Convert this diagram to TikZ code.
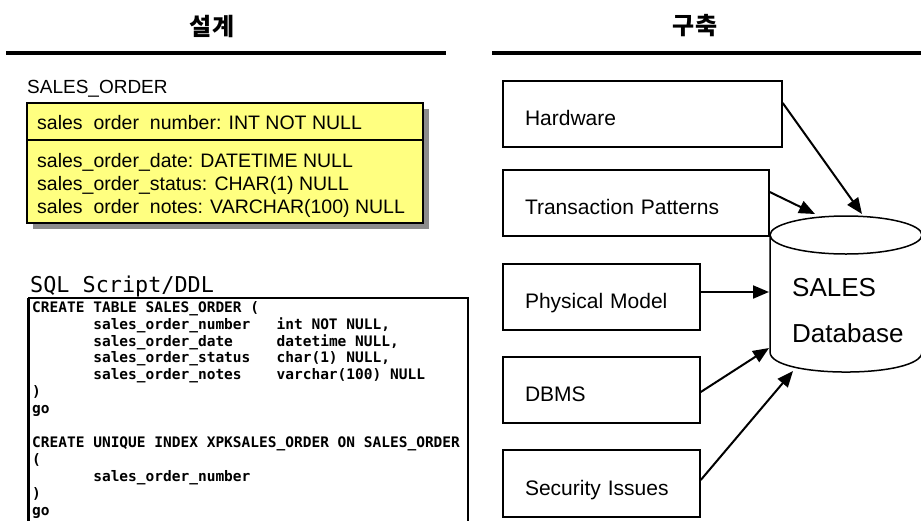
\documentclass[tikz,border=0pt]{standalone}
\usepackage{fontspec}
\setmainfont{Liberation Sans}
\newfontfamily\krfont{Noto Sans CJK KR}
\newfontfamily\codefont{DejaVu Sans Mono}
\usetikzlibrary{arrows.meta,calc}
\definecolor{entyellow}{RGB}{255,255,128}
\definecolor{shadowgray}{RGB}{140,140,140}

\begin{document}
\begin{tikzpicture}[x=1pt,y=-1pt,
  heading/.style={inner sep=0pt, font=\krfont\bfseries\fontsize{24}{24}\selectfont},
  rulebar/.style={line width=4pt},
  enttext/.style={anchor=base west, inner sep=0pt, font=\fontsize{19.5}{23}\selectfont},
  srcbox/.style={draw, line width=1.5pt, minimum height=66pt, inner xsep=22pt,
    inner ysep=0pt, align=left, text height=23pt, text depth=0pt,
    font=\fontsize{21}{24}\selectfont},
  feed/.style={line width=2pt, -{Triangle[length=16pt,width=13pt]}},
]
\useasboundingbox (0,0) rectangle (921,520);

% column headings and rules
\node[heading] (design) at (212,26) {설계};
\node[heading] (build)  at (695,26) {구축};
\draw[rulebar] (6,53) -- (446,53);
\draw[rulebar] (492,53) -- (921,53);

% entity SALES_ORDER
\node[anchor=base west, inner sep=0pt, font=\fontsize{19}{22}\selectfont] (entname) at (27,93) {SALES\_ORDER};
\fill[shadowgray] (33,109) rectangle (429,229);
\draw[line width=1.3pt, fill=entyellow] (27,103) rectangle (423,223);
\draw[line width=1.3pt] (27,140) -- (423,140);
\node[enttext] (pk) at (37,129) {sales\phantom{\_}order\phantom{\_}number: INT NOT NULL};
\node[enttext] (a1) at (37,167) {sales\_order\_date: DATETIME NULL};
\node[enttext] (a2) at (37,190) {sales\_order\_status: CHAR(1) NULL};
\node[enttext] (a3) at (37,213) {sales\phantom{\_}order\phantom{\_}notes: VARCHAR(100) NULL};

% SQL script (multi-line nodes sit on the baseline of their last line)
\node[anchor=base west, inner sep=0pt, font=\codefont\fontsize{21.8}{24}\selectfont] (sqlhead) at (30,292) {SQL Script/DDL};
\draw[line width=3pt] (28,298) -- (28,522);
\draw[line width=2pt] (28,298) -- (468,298) -- (468,522);
\node[anchor=base west, inner sep=0pt, align=left,
      font=\codefont\bfseries\fontsize{14.5}{16.9}\selectfont] (ddl) at (32,515) {%
CREATE~TABLE~SALES\_ORDER~(\\
~~~~~~~sales\_order\_number~~~int~NOT~NULL,\\
~~~~~~~sales\_order\_date~~~~~datetime~NULL,\\
~~~~~~~sales\_order\_status~~~char(1)~NULL,\\
~~~~~~~sales\_order\_notes~~~~varchar(100)~NULL\\
)\\
go\\
\mbox{}\\
CREATE~UNIQUE~INDEX~XPKSALES\_ORDER~ON~SALES\_ORDER\\
(\\
~~~~~~~sales\_order\_number\\
)\\
go};

% build inputs
\node[srcbox, minimum width=279pt, text width=235pt] (hw)   at (642.5,114)   {Hardware};
\node[srcbox, minimum width=266pt, text width=222pt] (tp)   at (636,203)     {Transaction Patterns};
\node[srcbox, minimum width=197pt, text width=153pt] (pm)   at (601.5,297)   {Physical Model};
\node[srcbox, minimum width=197pt, text width=153pt] (dbms) at (601.5,390)   {DBMS};
\node[srcbox, minimum width=197pt, text width=153pt, minimum height=67pt] (sec) at (601.5,483.5) {Security Issues};

% database cylinder
\draw[line width=1.5pt] (846,235) ellipse [x radius=76, y radius=19];
\draw[line width=1.5pt] (770,235) -- (770,352)
  .. controls (770,378.7) and (922,378.7) .. (922,352) -- (922,235);
\node[anchor=base west, inner sep=0pt, align=left,
      font=\fontsize{26}{46}\selectfont] (dbname) at (792,342) {SALES\\Database};

\coordinate (inHw)   at (862,214);
\coordinate (inTp)   at (815,214);
\coordinate (inPm)   at (769,292);
\coordinate (inDbms) at (769,348);
\coordinate (inSec)  at (793,371);

\draw[feed] ([yshift=11pt]hw.east) -- (inHw);
\draw[feed] ([yshift=11pt]tp.east) -- (inTp);
\draw[feed] ([yshift=5pt]pm.east) -- (inPm);
\draw[feed] ([yshift=-2pt]dbms.east) -- (inDbms);
\draw[feed] ([yshift=3.5pt]sec.east) -- (inSec);
\end{tikzpicture}
\end{document}
